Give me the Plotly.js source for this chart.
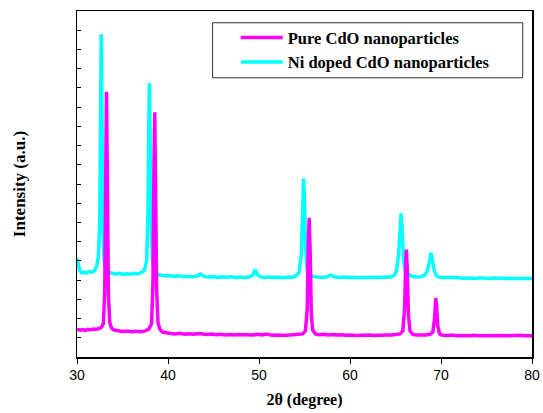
<!DOCTYPE html>
<html>
<head>
<meta charset="utf-8">
<script src="https://cdn.plot.ly/plotly-3.0.1.min.js"></script>
<style>html,body{margin:0;padding:0;background:#fff;}#chart{width:543px;height:413px;}</style>
</head>
<body>
<div id="chart"></div>
<script>
// Pure CdO nanoparticles (magenta)
const pureX = [30.0,30.3,30.6,30.9,31.2,31.5,31.8,32.1,32.4,32.7,32.9,33.05,33.15,33.24,33.33,33.45,33.6,33.8,34.1,34.5,35.0,35.5,36.0,36.5,37.0,37.5,37.9,38.2,38.35,38.45,38.54,38.63,38.75,38.9,39.1,39.4,39.8,40.3,40.8,41.3,41.8,42.3,42.8,43.3,43.8,44.3,44.8,45.3,45.8,46.3,46.8,47.3,47.8,48.3,48.8,49.3,49.8,50.3,50.8,51.3,51.8,52.3,52.8,53.3,53.8,54.3,54.8,55.1,55.3,55.42,55.52,55.62,55.75,55.9,56.2,56.6,57.1,57.6,58.1,58.6,59.1,59.6,60.1,60.6,61.1,61.6,62.1,62.6,63.1,63.6,64.1,64.6,65.1,65.5,65.8,66.0,66.1,66.2,66.3,66.42,66.6,66.9,67.3,67.8,68.3,68.8,69.1,69.3,69.42,69.52,69.65,69.85,70.2,70.7,71.2,71.7,72.2,72.7,73.2,73.7,74.2,74.7,75.2,75.7,76.2,76.7,77.2,77.7,78.2,78.7,79.2,79.7,80.0];
const pureY = [1.45,1.40,1.43,1.38,1.44,1.41,1.46,1.44,1.48,1.55,1.75,3.5,9.0,13.8,9.5,3.2,1.8,1.5,1.40,1.36,1.33,1.35,1.31,1.34,1.32,1.36,1.45,1.75,4.0,9.5,12.73,9.0,3.5,1.8,1.45,1.30,1.25,1.22,1.20,1.23,1.19,1.21,1.18,1.22,1.20,1.17,1.19,1.16,1.18,1.15,1.17,1.14,1.17,1.15,1.16,1.14,1.18,1.15,1.20,1.14,1.13,1.15,1.12,1.14,1.13,1.16,1.20,1.35,2.5,6.0,7.24,5.5,2.2,1.4,1.20,1.16,1.18,1.15,1.17,1.14,1.16,1.13,1.15,1.12,1.14,1.13,1.15,1.12,1.14,1.13,1.15,1.14,1.16,1.20,1.35,2.5,4.5,5.59,4.5,2.2,1.35,1.18,1.14,1.13,1.15,1.18,1.30,2.0,3.07,2.6,1.6,1.2,1.13,1.12,1.14,1.11,1.13,1.12,1.10,1.13,1.11,1.12,1.10,1.13,1.11,1.12,1.10,1.12,1.11,1.13,1.10,1.12,1.11];

// Ni doped CdO nanoparticles (cyan)
const niX = [30.0,30.15,30.3,30.5,30.8,31.0,31.3,31.6,31.9,32.15,32.35,32.5,32.58,32.66,32.75,32.85,33.0,33.2,33.5,33.9,34.3,34.7,35.1,35.5,35.9,36.3,36.7,37.1,37.4,37.65,37.8,37.88,37.96,38.05,38.15,38.3,38.5,38.8,39.2,39.7,40.2,40.7,41.2,41.7,42.2,42.7,43.2,43.6,44.0,44.5,45.0,45.5,46.0,46.5,47.0,47.5,48.0,48.5,49.0,49.3,49.55,49.8,50.1,50.6,51.1,51.6,52.1,52.6,53.1,53.6,54.0,54.4,54.65,54.8,54.9,55.0,55.12,55.3,55.6,56.0,56.5,57.0,57.5,57.9,58.3,58.8,59.3,59.8,60.3,60.8,61.3,61.8,62.3,62.8,63.3,63.8,64.3,64.8,65.1,65.35,65.5,65.62,65.74,65.9,66.1,66.4,66.8,67.3,67.8,68.2,68.5,68.75,68.9,69.05,69.2,69.45,69.8,70.3,70.8,71.3,71.8,72.3,72.8,73.3,73.8,74.3,74.8,75.3,75.8,76.3,76.8,77.3,77.8,78.3,78.8,79.3,79.8,80.0];
const niY = [5.14,4.75,4.5,4.38,4.42,4.36,4.45,4.40,4.48,4.7,5.2,7.0,12.0,16.79,12.5,6.5,4.9,4.55,4.40,4.35,4.32,4.36,4.30,4.33,4.31,4.36,4.33,4.40,4.5,5.0,7.5,11.5,14.24,11.0,7.0,4.9,4.45,4.30,4.25,4.22,4.24,4.19,4.22,4.18,4.20,4.17,4.22,4.32,4.18,4.16,4.19,4.14,4.17,4.15,4.18,4.13,4.16,4.14,4.17,4.25,4.55,4.30,4.18,4.14,4.16,4.13,4.15,4.12,4.16,4.14,4.20,4.40,5.3,7.5,9.29,8.0,5.6,4.5,4.25,4.18,4.16,4.14,4.18,4.26,4.17,4.14,4.16,4.13,4.15,4.12,4.14,4.13,4.15,4.12,4.14,4.16,4.15,4.22,4.45,5.4,6.8,7.47,6.5,4.9,4.4,4.3,4.2,4.16,4.18,4.25,4.5,5.0,5.42,5.1,4.6,4.25,4.15,4.13,4.14,4.11,4.13,4.10,4.12,4.11,4.09,4.12,4.10,4.08,4.11,4.09,4.10,4.08,4.10,4.07,4.09,4.08,4.10,4.09];

const seriesNames = ['Pure CdO nanoparticles', 'Ni doped CdO nanoparticles'];
const xTickVals = [30, 40, 50, 60, 70, 80];
const xTickText = ['30', '40', '50', '60', '70', '80'];

const serif = 'Liberation Serif, Times New Roman, serif';
const sans = 'Liberation Sans, Arial, sans-serif';

const traces = [
  {x: niX, y: niY, name: seriesNames[1], type: 'scatter', mode: 'lines',
   line: {color: '#00ffff', width: 3.5}},
  {x: pureX, y: pureY, name: seriesNames[0], type: 'scatter', mode: 'lines',
   line: {color: '#ff00ff', width: 3.5}}
];

const layout = {
  width: 543, height: 413,
  margin: {l: 77, r: 11, t: 11, b: 56},
  paper_bgcolor: '#fff', plot_bgcolor: '#fff',
  showlegend: true,
  legend: {
    x: 0.349, y: 0.973, xanchor: 'left', yanchor: 'top',
    traceorder: 'reversed', bgcolor: 'rgba(0,0,0,0)', borderwidth: 0,
    font: {family: serif, size: 16.5, color: '#000', weight: 'bold'},
    itemwidth: 42, tracegroupgap: 0
  },
  xaxis: {
    range: [30, 80], tickvals: xTickVals, ticktext: xTickText,
    ticks: 'outside', ticklen: 5, tickwidth: 1, tickcolor: '#000',
    showline: true, linecolor: '#000', linewidth: 1.5, mirror: true,
    showgrid: false, zeroline: false,
    tickfont: {family: sans, size: 14, color: '#000'},
    title: {text: '<b>2θ (degree)</b>', font: {family: serif, size: 16, color: '#000'}, standoff: 11}
  },
  yaxis: {
    range: [0, 18], dtick: 1, tick0: 0,
    ticks: 'inside', ticklen: 4, tickwidth: 1, tickcolor: '#000',
    showticklabels: false,
    showline: true, linecolor: '#000', linewidth: 1.5, mirror: true,
    showgrid: false, zeroline: false,
    title: {text: '<b>Intensity (a.u.)</b>', font: {family: serif, size: 17, color: '#000'}, standoff: 45}
  },
  shapes: [
    {type: 'rect', xref: 'paper', yref: 'paper', x0: 0.298, x1: 0.9796, y0: 0.807, y1: 0.966,
     line: {color: '#333', width: 1}, fillcolor: 'rgba(0,0,0,0)', layer: 'above'}
  ]
};

Plotly.newPlot('chart', traces, layout, {displayModeBar: false, staticPlot: true});
</script>
</body>
</html>
